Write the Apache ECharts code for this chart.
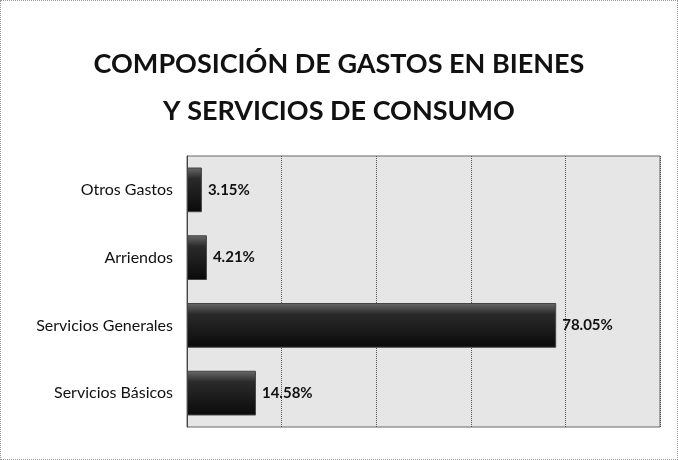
<!DOCTYPE html>
<html>
<head>
<meta charset="utf-8">
<script src="https://cdn.jsdelivr.net/npm/echarts@6/dist/echarts.min.js"></script>
<style>
  html, body { margin: 0; padding: 0; background: #fff; }
  #main { width: 678px; height: 460px; box-sizing: border-box; border: 1px dotted #999; }
</style>
</head>
<body>
<div id="main"></div>
<script>
// categories bottom to top, as echarts draws a category y axis
var categories = ['Servicios Básicos', 'Servicios Generales', 'Arriendos', 'Otros Gastos'];
var values = [14.58, 78.05, 4.21, 3.15];

var chart = echarts.init(document.getElementById('main'));

var option = {
    backgroundColor: '#fff',
    title: {
        text: 'COMPOSICIÓN DE GASTOS EN BIENES\nY SERVICIOS DE CONSUMO',
        left: 'center',
        top: 35,
        textStyle: {
            fontFamily: 'Lato',
            fontWeight: 'bold',
            fontSize: 27,
            lineHeight: 47,
            color: '#111'
        }
    },
    grid: {
        left: 186,
        right: 17,
        top: 155,
        bottom: 32,
        show: true,
        backgroundColor: '#e6e6e6',
        borderColor: '#666',
        borderWidth: 1
    },
    xAxis: {
        type: 'value',
        min: 0,
        max: 100,
        interval: 20,
        axisLabel: { show: false },
        axisTick: { show: false },
        axisLine: { show: false },
        splitLine: { lineStyle: { color: '#555', type: 'dotted', width: 1 } }
    },
    yAxis: {
        type: 'category',
        data: categories,
        axisTick: { show: false },
        axisLine: { lineStyle: { color: '#444' } },
        axisLabel: {
            fontFamily: 'Lato',
            fontSize: 16,
            color: '#111',
            margin: 14
        }
    },
    series: [{
        type: 'bar',
        data: values,
        barWidth: '66%',
        itemStyle: {
            color: new echarts.graphic.LinearGradient(0, 0, 0, 1, [
                { offset: 0, color: '#6a6a6a' },
                { offset: 0.25, color: '#2a2a2a' },
                { offset: 1, color: '#0a0a0a' }
            ]),
            borderColor: '#444',
            borderWidth: 1
        },
        label: {
            show: true,
            position: 'right',
            distance: 6,
            fontFamily: 'Lato',
            fontWeight: 'bold',
            fontSize: 15,
            color: '#111',
            formatter: function (p) { return p.value.toFixed(2) + '%'; }
        }
    }]
};

chart.setOption(option);
</script>
</body>
</html>
